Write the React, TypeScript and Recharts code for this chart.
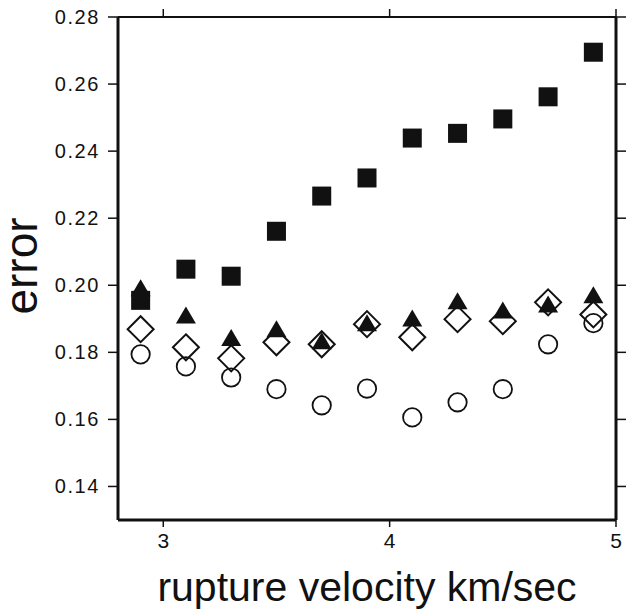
import React from "react";
import { ScatterChart, Scatter, XAxis, YAxis } from "recharts";

const INK = "#111";
const FONT = "'Liberation Sans', Arial, Helvetica, sans-serif";

// frame layout
const PLOT_TOP = 17;
const PLOT_RIGHT = 616;

// rupture velocity (km/sec) for every point
const velocity = [2.9, 3.1, 3.3, 3.5, 3.7, 3.9, 4.1, 4.3, 4.5, 4.7, 4.9];

// error values per marker type
const squareErr   = [0.1955, 0.2048, 0.2027, 0.2161, 0.2266, 0.232, 0.2439, 0.2453, 0.2496, 0.2562, 0.2695];
const triangleErr = [0.1991, 0.191, 0.1843, 0.1869, 0.1833, 0.1887, 0.1901, 0.1952, 0.1925, 0.1943, 0.197];
const diamondErr  = [0.1869, 0.1815, 0.1782, 0.183, 0.1824, 0.1884, 0.1845, 0.1899, 0.1893, 0.1949, 0.1913];
const circleErr   = [0.1794, 0.1758, 0.1725, 0.169, 0.1642, 0.1692, 0.1606, 0.1651, 0.169, 0.1824, 0.1887];

const xTicks = [3, 4, 5];
const yTicks = [0.14, 0.16, 0.18, 0.2, 0.22, 0.24, 0.26, 0.28];

const toPoints = (ys: number[]) => velocity.map((x, i) => ({ x, y: ys[i] }));

const Square = ({ cx, cy }: any) => (
  <rect x={cx - 9.5} y={cy - 9.5} width={19} height={19} fill={INK} />
);
const Triangle = ({ cx, cy }: any) => (
  <polygon points={`${cx},${cy - 9} ${cx - 10},${cy + 8} ${cx + 10},${cy + 8}`} fill={INK} />
);
const Diamond = ({ cx, cy }: any) => (
  <polygon
    points={`${cx},${cy - 13} ${cx + 13},${cy} ${cx},${cy + 13} ${cx - 13},${cy}`}
    fill="none" stroke={INK} strokeWidth={2}
  />
);
const Circle = ({ cx, cy }: any) => (
  <circle cx={cx} cy={cy} r={9.2} fill="none" stroke={INK} strokeWidth={1.8} />
);

// bottom tick label + matching outward tick on the top frame
const XTick = ({ x, y, payload }: any) => (
  <g>
    <text x={x} y={y + 15} textAnchor="middle" fill={INK} fontSize={21} fontFamily={FONT}>
      {payload.value}
    </text>
    <line x1={x} x2={x} y1={PLOT_TOP - 8} y2={PLOT_TOP} stroke={INK} strokeWidth={1.5} />
  </g>
);
// left tick label + matching outward tick on the right frame
const YTick = ({ x, y, payload }: any) => (
  <g>
    <text x={x} y={y + 7} textAnchor="end" fill={INK} fontSize={20} fontFamily={FONT} letterSpacing={1.6}>
      {Number(payload.value).toFixed(2)}
    </text>
    <line x1={PLOT_RIGHT} x2={PLOT_RIGHT + 10} y1={y} y2={y} stroke={INK} strokeWidth={1.5} />
  </g>
);

const line = { stroke: INK, strokeWidth: 1.5 };

export default function App() {
  return (
    <div style={{ position: "absolute", left: 0, top: 0, width: 626, height: 609, background: "#fff" }}>
      <ScatterChart width={626} height={609} margin={{ top: 0, right: 0, bottom: 0, left: 0 }}>
        <XAxis
          xAxisId="b" dataKey="x" type="number" orientation="bottom"
          domain={[2.8, 5]} ticks={xTicks} height={89}
          tickSize={7} tickMargin={6} tick={XTick}
          axisLine={{ stroke: INK, strokeWidth: 3 }} tickLine={line}
          label={{
            value: "rupture velocity km/sec", position: "insideBottom", offset: 8,
            style: { fill: INK, fontSize: 41, fontFamily: FONT },
          }}
        />
        <XAxis
          xAxisId="t" dataKey="x" type="number" orientation="top"
          domain={[2.8, 5]} ticks={xTicks} height={PLOT_TOP}
          tick={false} tickLine={false}
          axisLine={{ stroke: INK, strokeWidth: 2 }}
        />
        <YAxis
          yAxisId="l" dataKey="y" type="number" orientation="left"
          domain={[0.13, 0.28]} ticks={yTicks} width={118}
          tickSize={10} tickMargin={8} tick={YTick}
          axisLine={{ stroke: INK, strokeWidth: 3 }} tickLine={line}
          label={{
            content: () => (
              <text
                x={37} y={266} transform="rotate(-90 37 266)" textAnchor="middle"
                fill={INK} fontSize={46} fontFamily={FONT}
              >
                error
              </text>
            ),
          }}
        />
        <YAxis
          yAxisId="r" dataKey="y" type="number" orientation="right"
          domain={[0.13, 0.28]} ticks={yTicks} width={626 - PLOT_RIGHT}
          tick={false} tickLine={false}
          axisLine={{ stroke: INK, strokeWidth: 3 }}
        />
        <Scatter xAxisId="b" yAxisId="l" data={toPoints(circleErr)} shape={Circle} isAnimationActive={false} />
        <Scatter xAxisId="t" yAxisId="r" data={toPoints(diamondErr)} shape={Diamond} isAnimationActive={false} />
        <Scatter xAxisId="b" yAxisId="l" data={toPoints(triangleErr)} shape={Triangle} isAnimationActive={false} />
        <Scatter xAxisId="b" yAxisId="l" data={toPoints(squareErr)} shape={Square} isAnimationActive={false} />
      </ScatterChart>
    </div>
  );
}
